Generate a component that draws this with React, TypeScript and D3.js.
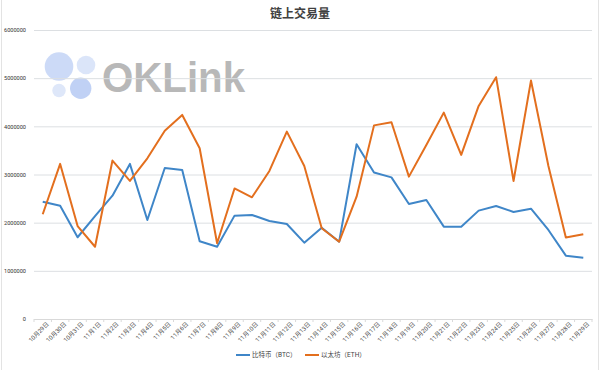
import * as d3 from 'd3'
import { useRef, useEffect } from 'react'

const dates = [
  '10月29日', '10月30日', '10月31日', '11月1日', '11月2日', '11月3日', '11月4日', '11月5日',
  '11月6日', '11月7日', '11月8日', '11月9日', '11月10日', '11月11日', '11月12日', '11月13日',
  '11月14日', '11月15日', '11月16日', '11月17日', '11月18日', '11月19日', '11月20日', '11月21日',
  '11月22日', '11月23日', '11月24日', '11月25日', '11月26日', '11月27日', '11月28日', '11月29日',
]

const btc = [
  2436000, 2353000, 1697000, 2135000, 2560000, 3220000, 2056000, 3136000,
  3095000, 1613000, 1500000, 2146000, 2160000, 2035000, 1973000, 1585000,
  1896000, 1605000, 3628000, 3040000, 2940000, 2388000, 2470000, 1917000,
  1917000, 2250000, 2347000, 2222000, 2290000, 1848000, 1315000, 1273000,
]

const eth = [
  2174000, 3220000, 1930000, 1500000, 3290000, 2866000, 3337000, 3910000,
  4237000, 3545000, 1572000, 2710000, 2527000, 3074000, 3890000, 3178000,
  1883000, 1605000, 2540000, 4020000, 4085000, 2956000, 3614000, 4285000,
  3406000, 4424000, 5020000, 2866000, 4950000, 3178000, 1690000, 1760000,
]

const yTicks = [0, 1000000, 2000000, 3000000, 4000000, 5000000, 6000000]

const series = [
  { name: '比特币（BTC）', values: btc, color: '#3f86c8' },
  { name: '以太坊（ETH）', values: eth, color: '#e36f1e' },
]

const W = 600
const H = 370
const margin = { top: 30, right: 8, bottom: 51, left: 34 }

export default function App() {
  const svgRef = useRef<SVGSVGElement>(null)

  useEffect(() => {
    const svg = d3.select(svgRef.current)
    svg.selectAll('*').remove()
    const font = 'Roboto, "Noto Sans CJK SC", sans-serif'

    svg.append('rect')
      .attr('x', 1.5).attr('y', -2).attr('width', W - 3).attr('height', H + 4)
      .attr('fill', '#fff').attr('stroke', '#e3e3e3')

    const x = d3.scaleBand<string>()
      .domain(dates)
      .range([margin.left, W - margin.right])
    const y = d3.scaleLinear()
      .domain([0, 6000000])
      .range([H - margin.bottom, margin.top])

    // watermark
    const wm = svg.append('g')
    const circles = [
      { cx: 59, cy: 66.5, r: 14.3, c: '#c3d3f6', o: 0.85 },
      { cx: 86, cy: 65, r: 9.3, c: '#d2dff8', o: 0.8 },
      { cx: 59, cy: 90.5, r: 6.7, c: '#d6e1f8', o: 0.8 },
      { cx: 80.7, cy: 88.3, r: 10.7, c: '#b9ccf4', o: 0.9 },
    ]
    wm.selectAll('circle').data(circles).enter().append('circle')
      .attr('cx', d => d.cx).attr('cy', d => d.cy).attr('r', d => d.r)
      .attr('fill', d => d.c).attr('opacity', d => d.o)
    wm.append('text')
      .attr('x', 102).attr('y', 91.5)
      .attr('font-family', '"Liberation Sans", Arial, sans-serif')
      .attr('font-weight', 'bold')
      .attr('font-size', 42)
      .attr('textLength', 143)
      .attr('lengthAdjust', 'spacingAndGlyphs')
      .attr('fill', '#b8b8b8')
      .text('OKLink')

    // title
    svg.append('text')
      .attr('x', W / 2).attr('y', 18)
      .attr('text-anchor', 'middle')
      .attr('font-family', font)
      .attr('font-size', 12)
      .attr('font-weight', 'bold')
      .attr('fill', '#404040')
      .text('链上交易量')

    // grid + y labels
    const yAxis = d3.axisLeft(y).tickValues(yTicks).tickSize(-(W - margin.left - margin.right)).tickFormat(d3.format('d'))
    const gy = svg.append('g').attr('transform', `translate(${margin.left},0)`).call(yAxis)
    gy.select('.domain').remove()
    gy.selectAll('.tick line').attr('stroke', '#dcdfe2').attr('stroke-width', 1)
    gy.selectAll('.tick text')
      .attr('x', -8)
      .attr('font-family', font)
      .attr('font-size', 5.6)
      .attr('fill', '#333')

    // x axis
    const xAxis = d3.axisBottom(x).tickSize(0)
    const gx = svg.append('g').attr('transform', `translate(0,${H - margin.bottom})`).call(xAxis)
    gx.select('.domain').attr('stroke', '#d9d9d9')
    gx.selectAll('.tick text')
      .attr('font-family', font)
      .attr('font-size', 6)
      .attr('fill', '#444')
      .attr('text-anchor', 'end')
      .attr('transform', 'translate(5,4) rotate(-45)')
      .attr('dy', '0.35em')
      .attr('y', 0)
    const edges = dates.map((d) => x(d)!).concat([W - margin.right])
    gx.selectAll('line.sep').data(edges).enter().append('line')
      .attr('class', 'sep')
      .attr('x1', d => d).attr('x2', d => d)
      .attr('y1', 0).attr('y2', 3)
      .attr('stroke', '#d9d9d9')

    // lines
    const line = d3.line<number>()
      .x((_, i) => x(dates[i])! + x.bandwidth() / 2)
      .y(d => y(d))
    svg.selectAll('path.series').data(series).enter().append('path')
      .attr('class', 'series')
      .attr('d', d => line(d.values))
      .attr('fill', 'none')
      .attr('stroke', d => d.color)
      .attr('stroke-width', 2)
      .attr('stroke-linejoin', 'round')

    // legend
    const legendX = [236, 305]
    const lg = svg.selectAll('g.legend').data(series).enter().append('g')
      .attr('class', 'legend')
      .attr('transform', (_, i) => `translate(${legendX[i]},355)`)
    lg.append('line')
      .attr('x1', 0).attr('x2', 14)
      .attr('stroke', d => d.color).attr('stroke-width', 2)
    lg.append('text')
      .attr('x', 16).attr('dy', '0.35em')
      .attr('font-family', font)
      .attr('font-size', 6.5)
      .attr('fill', '#444')
      .text(d => d.name)
  }, [])

  return (
    <svg ref={svgRef} width={W} height={H} style={{ position: 'absolute', left: 0, top: 0 }} />
  )
}
